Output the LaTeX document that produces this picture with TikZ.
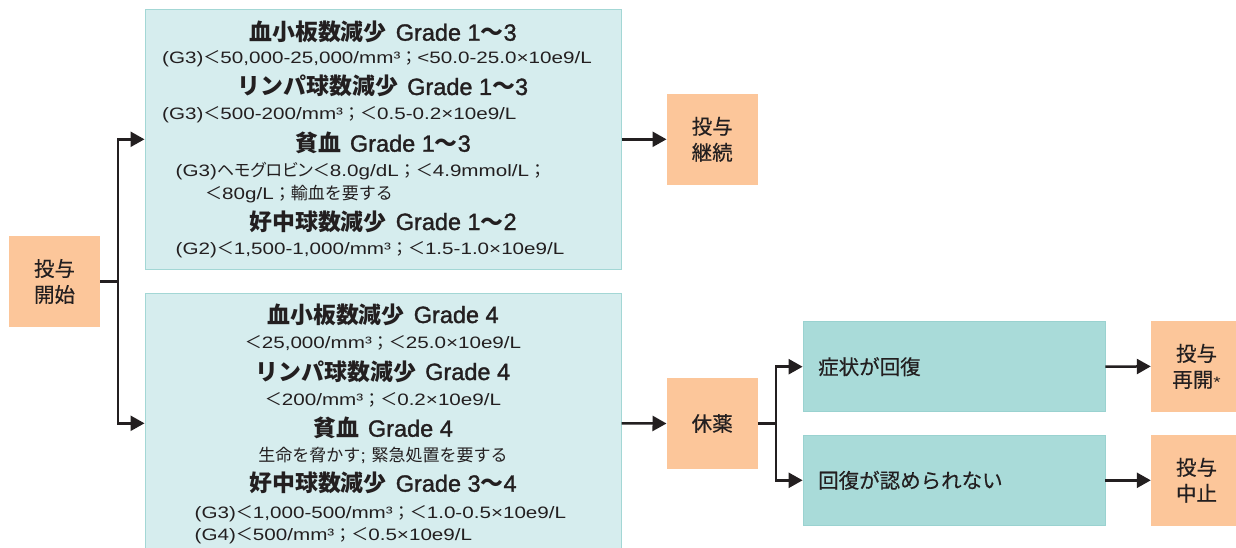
\documentclass[tikz,border=0pt]{standalone}
\usepackage{fontspec}
\setmainfont{Noto Sans CJK JP}
\newfontface\jpmed{Noto Sans CJK JP}[FakeBold=0.4]
\newfontface\jppalt{Noto Sans CJK JP}[RawFeature=+palt]
\newfontface\latsub{Liberation Sans}[FakeStretch=1.25]
\newfontface\lattl{Liberation Sans}[FakeBold=1.4]
\newcommand\lats[1]{{\latsub\fontsize{16.5}{20}\selectfont #1}}
\newcommand\latg[1]{{\lattl\fontsize{23.5}{26}\selectfont #1}}
\usetikzlibrary{arrows.meta}
\definecolor{ink}{HTML}{231F20}
\definecolor{orangefill}{HTML}{FCC69A}
\definecolor{palefill}{HTML}{D6EDEE}
\definecolor{paleedge}{HTML}{A3D7D5}
\definecolor{tealfill}{HTML}{A9DBD9}
\definecolor{tealedge}{HTML}{9AD2D0}
\tikzset{
  orangebox/.style={fill=orangefill, draw=none, minimum width=91pt, minimum height=90.5pt,
    inner sep=0pt, align=center, text=ink, font=\jpmed\fontsize{20.5}{26}\selectfont},
  palebox/.style={fill=palefill, draw=paleedge, line width=1pt, minimum width=476pt,
    minimum height=260pt, inner sep=0pt},
  tealbox/.style={fill=tealfill, draw=tealedge, line width=0.8pt, minimum width=302pt,
    minimum height=90pt, inner sep=0pt},
  tealtext/.style={text=ink, inner sep=0pt, font=\jpmed\fontsize{20.5}{24}\selectfont},
  ttl/.style={text=ink, inner sep=0pt, anchor=base, font=\fontsize{22.9}{26}\selectfont\bfseries},
  sub/.style={text=ink, inner sep=0pt, anchor=base, font=\fontsize{17}{20}\selectfont},
  subl/.style={sub, anchor=base west},
  arr/.style={draw=ink, line width=2.5pt, -{Triangle[length=14pt,width=15pt]}},
  link/.style={draw=ink, line width=2.5pt},
}
\begin{document}
\begin{tikzpicture}[x=1pt,y=-1pt]
\useasboundingbox (0,0) rectangle (1236,548);
\clip (0,0) rectangle (1236,548);

% boxes
\node[orangebox] (start) at (54.5,281.5) {投与\\開始};
\node[palebox] (top) at (383,139.3) {};
\node[palebox] (bot) at (383,423.3) {};
\node[orangebox] (cont) at (712.2,139.3) {投与\\継続};
\node[orangebox] (rest) at (712.2,423.5) {休薬};
\node[tealbox] (rec) at (954,366.7) {};
\node[tealbox] (norec) at (954,480.3) {};
\node[orangebox] (resume) at (1196.5,366.4) {投与\\再開{\latsub\fontsize{15}{15}\selectfont *}};
\node[orangebox] (stop) at (1196.5,480.3) {投与\\中止};

\node[tealtext, anchor=west] (rectext) at (818,366.7) {症状が回復};
\node[tealtext, anchor=west] (norectext) at (818,480.3) {回復が認められない};

% top box text
\node[ttl] (a1) at (383,40.7) {血小板数減少\hspace{9pt}\latg{Grade 1}〜\latg{3}};
\node[subl] (a2) at (162,64) {\lats{(G3)}＜\lats{50,000-25,000/mm³}；\lats{<50.0-25.0×10e9/L}};
\node[ttl] (a3) at (383,95) {リンパ球数減少\hspace{9pt}\latg{Grade 1}〜\latg{3}};
\node[subl] (a4) at (162,120) {\lats{(G3)}＜\lats{500-200/mm³}；＜\lats{0.5-0.2×10e9/L}};
\node[ttl] (a5) at (383,151.7) {貧血\hspace{9pt}\latg{Grade 1}〜\latg{3}};
\node[subl] (a6) at (175.5,177) {\lats{(G3)}{\jppalt\fontsize{17}{20}\selectfont ヘモグロビン}＜\lats{8.0g/dL}；＜\lats{4.9mmol/L}；};
\node[subl] (a7) at (205,200) {＜\lats{80g/L}；輸血を要する};
\node[ttl] (a8) at (383,230) {好中球数減少\hspace{9pt}\latg{Grade 1}〜\latg{2}};
\node[subl] (a9) at (175.5,254) {\lats{(G2)}＜\lats{1,500-1,000/mm³}；＜\lats{1.5-1.0×10e9/L}};

% bottom box text
\node[ttl] (b1) at (383,323) {血小板数減少\hspace{9pt}\latg{Grade 4}};
\node[sub] (b2) at (383,348) {＜\lats{25,000/mm³}；＜\lats{25.0×10e9/L}};
\node[ttl] (b3) at (383,380) {リンパ球数減少\hspace{9pt}\latg{Grade 4}};
\node[sub] (b4) at (383,405) {＜\lats{200/mm³}；＜\lats{0.2×10e9/L}};
\node[ttl] (b5) at (383,436.7) {貧血\hspace{9pt}\latg{Grade 4}};
\node[sub] (b6) at (383,461.7) {生命を脅かす\lats{; }緊急処置を要する};
\node[ttl] (b7) at (383,491.7) {好中球数減少\hspace{9pt}\latg{Grade 3}〜\latg{4}};
\node[subl] (b8) at (194.5,518.3) {\lats{(G3)}＜\lats{1,000-500/mm³}；＜\lats{1.0-0.5×10e9/L}};
\node[subl] (b9) at (194.5,540.7) {\lats{(G4)}＜\lats{500/mm³}；＜\lats{0.5×10e9/L}};

% connectors
\coordinate (j1) at (118,281.5);
\draw[link] (start.east) -- (j1);
\draw[arr] (j1) |- (top.west);
\draw[arr] (j1) |- (bot.west);
\draw[arr] (top.east) -- (cont.west);
\draw[arr] (bot.east) -- (rest.west);
\coordinate (j2) at (776,423.5);
\draw[link] (rest.east) -- (j2);
\draw[arr] (j2) |- (rec.west);
\draw[arr] (j2) |- (norec.west);
\draw[arr] (rec.east) -- (resume.west);
\draw[arr] (norec.east) -- (stop.west);
\end{tikzpicture}
\end{document}
